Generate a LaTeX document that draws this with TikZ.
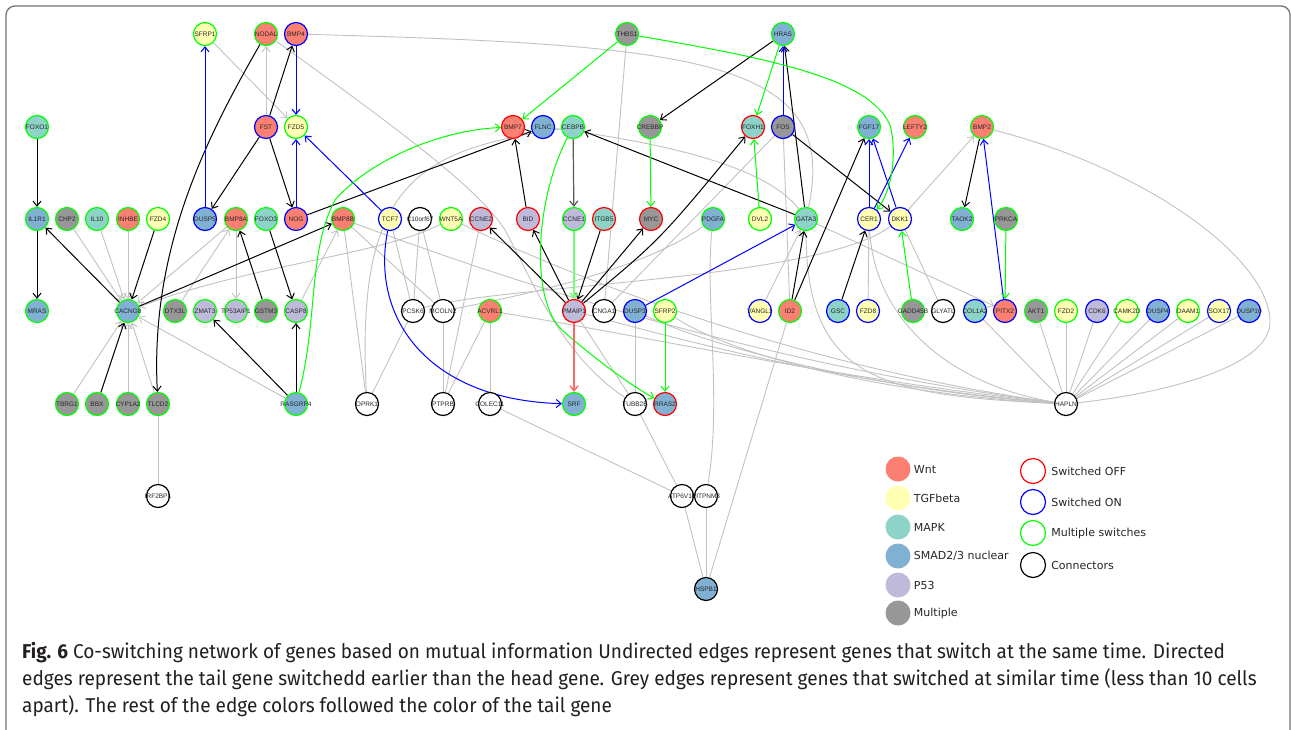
\documentclass[tikz,border=0pt]{standalone}
\usepackage{fontspec}
\newfontfamily\genefont{Liberation Sans}
\newfontfamily\legfont{DejaVu Sans}
\newfontfamily\capfont[FakeStretch=0.95]{Fira Sans}
\usetikzlibrary{arrows.meta,positioning}

\definecolor{wntc}{HTML}{FB8072}
\definecolor{tgfc}{HTML}{FFFFB3}
\definecolor{mapkc}{HTML}{8DD3C7}
\definecolor{smadc}{HTML}{80B1D3}
\definecolor{p53c}{HTML}{BEBADA}
\definecolor{multic}{HTML}{979797}
\definecolor{offc}{HTML}{FF0000}
\definecolor{onc}{HTML}{0000FF}
\definecolor{mulc}{HTML}{00FF00}
\definecolor{greyedge}{HTML}{C2C2C2}
\definecolor{captext}{HTML}{231F20}

\pgfdeclarelayer{bg}
\pgfdeclarelayer{edges}
\pgfsetlayers{bg,edges,main}

% gene label that may run past its circle
\newcommand{\gname}[1]{\makebox[0pt]{#1}}

\tikzset{
  gene/.style={circle, draw, line width=1.2pt, minimum size=23pt, inner sep=0pt,
    text=black!85, font=\genefont\fontsize{6.5}{7}\selectfont},
  wnt/.style={gene, fill=wntc},
  tgf/.style={gene, fill=tgfc},
  mapk/.style={gene, fill=mapkc},
  smad/.style={gene, fill=smadc},
  ptf/.style={gene, fill=p53c},
  multi/.style={gene, fill=multic},
  conn/.style={gene, fill=white, draw=black},
  swoff/.style={draw=offc},
  swon/.style={draw=onc},
  swmul/.style={draw=mulc},
  arr/.style={-{Straight Barb[length=5pt,width=8pt]}},
  gedge/.style={draw=greyedge, line width=0.9pt},
  kedge/.style={draw=black, line width=1pt},
  dkedge/.style={draw=black!65, line width=1.2pt},
  bedge/.style={draw=onc, line width=1pt},
  gnedge/.style={draw=mulc, line width=1pt},
  lgnedge/.style={draw=mulc!55, line width=1.4pt},
  redge/.style={draw=offc!60, line width=1.4pt},
  legdot/.style={circle, minimum size=25pt, inner sep=0pt},
  legring/.style={circle, minimum size=25pt, inner sep=0pt, fill=white, line width=1.2pt},
  legtxt/.style={anchor=west, inner sep=0pt, text=black!85, font=\legfont\fontsize{11}{12}\selectfont},
  captxt/.style={anchor=base west, inner sep=0pt, text=captext, font=\capfont\fontsize{20}{22}\selectfont}
}

\begin{document}
\begin{tikzpicture}[x=1pt, y=-1pt]
\useasboundingbox (0,0) rectangle (1292,729);
\begin{pgfonlayer}{bg}
\fill[white] (0,0) rectangle (1292,729);
\end{pgfonlayer}
\begin{scope}
\clip (0,0) rectangle (1292,729);
\draw[black!55, line width=1.3pt, rounded corners=9pt] (6,6) rectangle (1290,745);
\end{scope}

%Row 1
\node[tgf, swmul] (SFRP1) at (205,34) {\gname{SFRP1}};
\node[wnt, swmul] (NODAL) at (266,34) {\gname{NODAL}};
\node[wnt, swon] (BMP4) at (296,34) {\gname{BMP4}};
\node[multi, swmul] (THBS1) at (627,34) {\gname{THBS1}};
\node[smad, swmul] (HRAS) at (783,34) {\gname{HRAS}};
%Row 2
\node[mapk, swmul] (FOXO1) at (37,127) {\gname{FOXO1}};
\node[wnt, swon] (FST) at (266,127) {\gname{FST}};
\node[tgf, swmul] (FZD5) at (296,127) {\gname{FZD5}};
\node[wnt, swoff] (BMP7) at (513,127) {\gname{BMP7}};
\node[smad, swon] (FLNC) at (543,127) {\gname{FLNC}};
\node[mapk, swmul] (CEBPB) at (573,127) {\gname{CEBPB}};
\node[multi, swmul] (CREBBP) at (650,127) {\gname{CREBBP}};
\node[mapk, swoff] (FOXH1) at (753,127) {\gname{FOXH1}};
\node[multi, swon] (FOS) at (783,127) {\gname{FOS}};
\node[smad, swmul] (FGF17) at (869,127) {\gname{FGF17}};
\node[wnt, swmul] (LEFTY2) at (915,127) {\gname{LEFTY2}};
\node[wnt, swmul] (BMP2) at (982,127) {\gname{BMP2}};
%Row 3
\node[smad, swmul] (IL1R1) at (37,219) {\gname{IL1R1}};
\node[multi, swmul] (CHP2) at (67,219) {\gname{CHP2}};
\node[mapk, swmul] (IL10) at (97,219) {\gname{IL10}};
\node[wnt, swmul] (INHBE) at (128,219) {\gname{INHBE}};
\node[tgf, swmul] (FZD4) at (158,219) {\gname{FZD4}};
\node[smad, swon] (DUSP5) at (205,219) {\gname{DUSP5}};
\node[wnt, swmul] (BMP8A) at (236,219) {\gname{BMP8A}};
\node[mapk, swmul] (FOXO3) at (266,219) {\gname{FOXO3}};
\node[wnt, swon] (NOG) at (296,219) {\gname{NOG}};
\node[wnt, swmul] (BMP8B) at (343,219) {\gname{BMP8B}};
\node[tgf, swon] (TCF7) at (390,219) {\gname{TCF7}};
\node[conn] (C10orf67) at (420,219) {\gname{C10orf67}};
\node[tgf, swmul] (WNT5A) at (451,219) {\gname{WNT5A}};
\node[ptf, swoff] (CCNE2) at (481,219) {\gname{CCNE2}};
\node[ptf, swoff] (BID) at (528,219) {\gname{BID}};
\node[ptf, swmul] (CCNE1) at (574,219) {\gname{CCNE1}};
\node[mapk, swoff] (ITGB5) at (604,219) {\gname{ITGB5}};
\node[multi, swoff] (MYC) at (651,219) {\gname{MYC}};
\node[smad, swmul] (PDGFA) at (713,219) {\gname{PDGFA}};
\node[tgf, swmul] (DVL2) at (760,219) {\gname{DVL2}};
\node[mapk, swmul] (GATA3) at (806,219) {\gname{GATA3}};
\node[tgf, swon] (CER1) at (869,219) {\gname{CER1}};
\node[tgf, swon] (DKK1) at (900,219) {\gname{DKK1}};
\node[smad, swmul] (TAOK2) at (962,219) {\gname{TAOK2}};
\node[multi, swmul] (PRKCA) at (1006,219) {\gname{PRKCA}};
%Row 4
\node[smad, swmul] (MRAS) at (37,311) {\gname{MRAS}};
\node[smad, swmul] (CACNG8) at (128,311) {\gname{CACNG8}};
\node[multi, swmul] (DTX3L) at (175,311) {\gname{DTX3L}};
\node[ptf, swmul] (ZMAT3) at (205,311) {\gname{ZMAT3}};
\node[ptf, swmul] (TP53AIP1) at (236,311) {\gname{TP53AIP1}};
\node[multi, swmul] (GSTM3) at (266,311) {\gname{GSTM3}};
\node[ptf, swmul] (CASP8) at (296,311) {\gname{CASP8}};
\node[conn] (PCSK6) at (413,311) {\gname{PCSK6}};
\node[conn] (MCOLN2) at (443,311) {\gname{MCOLN2}};
\node[wnt, swmul] (ACVRL1) at (490,311) {\gname{ACVRL1}};
\node[ptf, swoff] (PMAIP1) at (574,311) {\gname{PMAIP1}};
\node[conn] (CNGA1) at (604,311) {\gname{CNGA1}};
\node[smad, swon] (DUSP3) at (635,311) {\gname{DUSP3}};
\node[tgf, swmul] (SFRP2) at (665,311) {\gname{SFRP2}};
\node[tgf, swon] (VANGL1) at (760,311) {\gname{VANGL1}};
\node[wnt, swmul] (ID2) at (790,311) {\gname{ID2}};
\node[mapk, swon] (GSC) at (838,311) {\gname{GSC}};
\node[tgf, swon] (FZD8) at (868,311) {\gname{FZD8}};
\node[multi, swmul] (GADD45B) at (913,311) {\gname{GADD45B}};
\node[conn] (GLYATL) at (943,311) {\gname{GLYATL}};
\node[mapk, swon] (COL1A2) at (975,311) {\gname{COL1A2}};
\node[wnt, swon] (PITX2) at (1005,311) {\gname{PITX2}};
\node[multi, swmul] (AKT1) at (1036,311) {\gname{AKT1}};
\node[tgf, swmul] (FZD2) at (1066,311) {\gname{FZD2}};
\node[ptf, swon] (CDK6) at (1097,311) {\gname{CDK6}};
\node[tgf, swmul] (CAMK2D) at (1127,311) {\gname{CAMK2D}};
\node[smad, swon] (DUSP4) at (1158,311) {\gname{DUSP4}};
\node[tgf, swmul] (DAAM1) at (1188,311) {\gname{DAAM1}};
\node[tgf, swon] (SOX17) at (1219,311) {\gname{SOX17}};
\node[smad, swon] (DUSP10) at (1249,311) {\gname{DUSP10}};
%Row 5
\node[multi, swmul] (TBRG1) at (67,404) {\gname{TBRG1}};
\node[multi, swmul] (BBX) at (97,404) {\gname{BBX}};
\node[multi, swmul] (CYP1A2) at (128,404) {\gname{CYP1A2}};
\node[multi, swmul] (TLCD2) at (158,404) {\gname{TLCD2}};
\node[smad, swmul] (RASGRP4) at (296,404) {\gname{RASGRP4}};
\node[conn] (OPRK1) at (367,404) {\gname{OPRK1}};
\node[conn] (PTPRB) at (443,404) {\gname{PTPRB}};
\node[conn] (COLEC11) at (490,404) {\gname{COLEC11}};
\node[smad, swmul] (SRF) at (574,404) {\gname{SRF}};
\node[conn] (TUBB2B) at (635,404) {\gname{TUBB2B}};
\node[smad, swoff] (RRAS2) at (665,404) {\gname{RRAS2}};
\node[conn] (HAPLN) at (1066,404) {\gname{HAPLN}};
%Row 6 and 7
\node[conn] (IRF2BPL) at (158,496) {\gname{IRF2BPL}};
\node[conn] (ATP6V1F) at (682,496) {\gname{ATP6V1F}};
\node[conn] (PITPNM3) at (706,496) {\gname{PITPNM3}};
\node[smad] (HSPB1) at (706,589) {\gname{HSPB1}};

\begin{pgfonlayer}{edges}
%Grey edges
\draw[gedge,arr] (SFRP1) -- (FZD5);
\draw[gedge,arr] (FST) -- (NODAL);
\draw[gedge] (NODAL) .. controls (400,130) and (480,190) .. (505,230) .. controls (530,275) and (560,355) .. (TUBB2B);
\draw[gedge] (BMP4) .. controls (700,45) and (840,60) .. (GATA3);
\draw[gedge] (FLNC) .. controls (680,145) and (770,170) .. (GATA3);
\draw[gedge] (GATA3) .. controls (806,380) and (880,395) .. (HAPLN);
\draw[gedge,arr] (CHP2) -- (CACNG8);
\draw[gedge,arr] (IL10) -- (CACNG8);
\draw[gedge,arr] (INHBE) -- (CACNG8);
\draw[gedge,arr] (BMP8A) -- (CACNG8);
\draw[gedge,arr] (TBRG1) -- (CACNG8);
\draw[gedge,arr] (CYP1A2) -- (CACNG8);
\draw[gedge,arr] (TLCD2) -- (CACNG8);
\draw[gedge,arr] (RASGRP4) -- (CACNG8);
\draw[gedge,arr] (WNT5A) .. controls (380,255) and (250,265) .. (CACNG8);
\draw[gedge,arr] (DTX3L) -- (BMP8A);
\draw[gedge,arr] (BMP8A) -- (TP53AIP1);
\draw[gedge,arr] (CASP8) -- (BMP8B);
\draw[gedge] (TLCD2) -- (IRF2BPL);
\draw[gedge] (BMP8B) -- (OPRK1);
\draw[gedge] (CEBPB) .. controls (420,150) and (355,180) .. (OPRK1);
\draw[gedge] (BMP8B) -- (MCOLN2);
\draw[gedge] (TCF7) -- (PCSK6);
\draw[gedge] (C10orf67) -- (PCSK6);
\draw[gedge] (C10orf67) -- (MCOLN2);
\draw[gedge] (OPRK1) -- (PCSK6);
\draw[gedge] (MCOLN2) -- (PTPRB);
\draw[gedge] (CCNE2) -- (PTPRB);
\draw[gedge] (ACVRL1) -- (PTPRB);
\draw[gedge] (ACVRL1) -- (COLEC11);
\draw[gedge] (COLEC11) -- (ATP6V1F);
\draw[gedge] (TUBB2B) -- (ATP6V1F);
\draw[gedge] (ATP6V1F) -- (HSPB1);
\draw[gedge] (PITPNM3) -- (HSPB1);
\draw[gedge] (ID2) -- (HSPB1);
\draw[gedge] (PDGFA) .. controls (705,300) and (722,400) .. (PITPNM3);
\draw[gedge] (TUBB2B) -- (DUSP3);
\draw[gedge] (TUBB2B) -- (PMAIP1);
\draw[gedge] (THBS1) -- (CNGA1);
\draw[gedge] (FOS) -- (CNGA1);
\draw[gedge] (FOS) -- (ID2);
\draw[gedge] (MCOLN2) .. controls (550,290) and (650,265) .. (PDGFA);
\draw[gedge] (PCSK6) .. controls (500,285) and (820,280) .. (DKK1);
\draw[gedge] (BMP8B) .. controls (560,300) and (800,370) .. (HAPLN);
\draw[gedge] (WNT5A) .. controls (600,290) and (820,370) .. (HAPLN);
\draw[gedge] (ACVRL1) .. controls (640,335) and (830,378) .. (HAPLN);
\draw[gedge] (PMAIP1) .. controls (700,345) and (850,385) .. (HAPLN);
\draw[gedge] (DUSP3) .. controls (720,350) and (880,390) .. (HAPLN);
\draw[gedge] (SFRP2) .. controls (740,360) and (900,395) .. (HAPLN);
\draw[gedge] (CER1) .. controls (875,320) and (950,385) .. (HAPLN);
\draw[gedge] (CER1) -- (FZD8);
\draw[gedge] (DKK1) -- (GLYATL);
\draw[gedge,arr] (DKK1) -- (BMP2);
\draw[gedge,arr] (VANGL1) -- (GATA3);
\draw[gedge,arr] (GATA3) -- (PITX2);
\draw[gedge] (COL1A2) -- (HAPLN);
\draw[gedge] (AKT1) -- (HAPLN);
\draw[gedge] (FZD2) -- (HAPLN);
\draw[gedge] (CDK6) -- (HAPLN);
\draw[gedge] (CAMK2D) -- (HAPLN);
\draw[gedge] (DUSP4) -- (HAPLN);
\draw[gedge] (DAAM1) -- (HAPLN);
\draw[gedge] (SOX17) -- (HAPLN);
\draw[gedge] (DUSP10) -- (HAPLN);
\draw[gedge] (BMP2) .. controls (1150,170) and (1270,260) .. (1270,322) .. controls (1270,370) and (1150,395) .. (HAPLN);
%Black edges
\draw[kedge,arr] (FOXO1) -- (IL1R1);
\draw[kedge,arr] (IL1R1) -- (MRAS);
\draw[kedge,arr] (NODAL) .. controls (205,140) and (150,250) .. (TLCD2);
\draw[kedge,arr] (FST) -- (BMP4);
\draw[kedge,arr] (FST) -- (DUSP5);
\draw[kedge,arr] (FST) -- (NOG);
\draw[kedge,arr] (FZD4) -- (CACNG8);
\draw[kedge,arr] (CACNG8) -- (IL1R1);
\draw[kedge,arr] (CACNG8) -- (BMP8B);
\draw[kedge,arr] (BBX) -- (CACNG8);
\draw[kedge,arr] (FOXO3) -- (CASP8);
\draw[kedge,arr] (GSTM3) -- (BMP8A);
\draw[kedge,arr] (RASGRP4) -- (ZMAT3);
\draw[kedge,arr] (RASGRP4) -- (CASP8);
\draw[kedge,arr] (NOG) -- (FLNC);
\draw[kedge,arr] (BID) -- (BMP7);
\draw[dkedge,arr] (CEBPB) -- (CCNE1);
\draw[kedge,arr] (HRAS) -- (CREBBP);
\draw[kedge,arr] (GATA3) -- (CEBPB);
\draw[kedge,arr] (PMAIP1) -- (CCNE2);
\draw[kedge,arr] (PMAIP1) -- (BID);
\draw[kedge,arr] (ITGB5) -- (PMAIP1);
\draw[kedge,arr] (PMAIP1) -- (MYC);
\draw[kedge,arr] (PMAIP1) .. controls (660,240) .. (FOXH1);
\draw[kedge,arr] (FOS) -- (DKK1);
\draw[kedge,arr] (ID2) -- (GATA3);
\draw[kedge,arr] (ID2) -- (FGF17);
\draw[kedge,arr] (GATA3) -- (HRAS);
\draw[kedge,arr] (GSC) -- (CER1);
\draw[kedge,arr] (BMP2) -- (TAOK2);
%Blue edges
\draw[bedge,arr] (DUSP5) -- (SFRP1);
\draw[bedge,arr] (BMP4) -- (FZD5);
\draw[bedge,arr] (NOG) -- (FZD5);
\draw[bedge,arr] (TCF7) -- (FZD5);
\draw[bedge,arr] (TCF7) .. controls (370,320) and (430,400) .. (SRF);
\draw[bedge,arr] (DUSP3) -- (GATA3);
\draw[bedge,arr] (FOS) -- (HRAS);
\draw[bedge,arr] (CER1) -- (FGF17);
\draw[bedge,arr] (DKK1) -- (FGF17);
\draw[bedge,arr] (CER1) -- (LEFTY2);
\draw[bedge,arr] (PITX2) -- (BMP2);
%Green and red edges
\draw[gnedge,arr] (THBS1) -- (BMP7);
\draw[gnedge,arr] (THBS1) .. controls (780,60) and (870,80) .. (890,125) .. controls (897,150) and (893,190) .. (CER1);
\draw[gnedge,arr] (RASGRP4) .. controls (318,320) and (308,250) .. (335,200) .. controls (370,160) and (440,130) .. (BMP7);
\draw[gnedge,arr] (HRAS) -- (FOXH1);
\draw[gnedge,arr] (CREBBP) -- (MYC);
\draw[lgnedge,arr] (CCNE1) -- (PMAIP1);
\draw[gnedge,arr] (CEBPB) .. controls (535,200) and (530,300) .. (562,330) .. controls (590,355) and (630,385) .. (RRAS2);
\draw[gnedge,arr] (DVL2) -- (FOXH1);
\draw[gnedge,arr] (SFRP2) -- (RRAS2);
\draw[gnedge,arr] (GADD45B) -- (DKK1);
\draw[gnedge,arr] (PRKCA) -- (PITX2);
\draw[redge,arr] (PMAIP1) -- (SRF);
\end{pgfonlayer}

%Legend
\node[legdot, fill=wntc] (lgwnt) at (898,469) {};
\node[legtxt, right=3pt of lgwnt] {Wnt};
\node[legdot, fill=tgfc] (lgtgf) at (898,498) {};
\node[legtxt, right=3pt of lgtgf] {TGFbeta};
\node[legdot, fill=mapkc] (lgmapk) at (898,527) {};
\node[legtxt, right=3pt of lgmapk] {MAPK};
\node[legdot, fill=smadc] (lgsmad) at (898,556) {};
\node[legtxt, right=3pt of lgsmad] {SMAD2/3 nuclear};
\node[legdot, fill=p53c] (lgp53) at (898,585) {};
\node[legtxt, right=3pt of lgp53] {P53};
\node[legdot, fill=multic] (lgmulti) at (898,613) {};
\node[legtxt, right=3pt of lgmulti] {Multiple};
\node[legring, draw=offc] (lgoff) at (1033,471) {};
\node[legtxt, right=5pt of lgoff] {Switched OFF};
\node[legring, draw=onc] (lgon) at (1033,502) {};
\node[legtxt, right=5pt of lgon] {Switched ON};
\node[legring, draw=mulc] (lgmul) at (1033,533) {};
\node[legtxt, right=5pt of lgmul] {Multiple switches};
\node[legring, draw=black] (lgconn) at (1033,565) {};
\node[legtxt, right=5pt of lgconn] {Connectors};

%Caption
\node[captxt] (cap1) at (22,658) {\textbf{Fig. 6} Co-switching network of genes based on mutual information Undirected edges represent genes that switch at the same time. Directed};
\node[captxt] (cap2) at (22,685) {edges represent the tail gene switchedd earlier than the head gene. Grey edges represent genes that switched at similar time (less than 10 cells};
\node[captxt] (cap3) at (22,712) {apart). The rest of the edge colors followed the color of the tail gene};
\end{tikzpicture}
\end{document}
